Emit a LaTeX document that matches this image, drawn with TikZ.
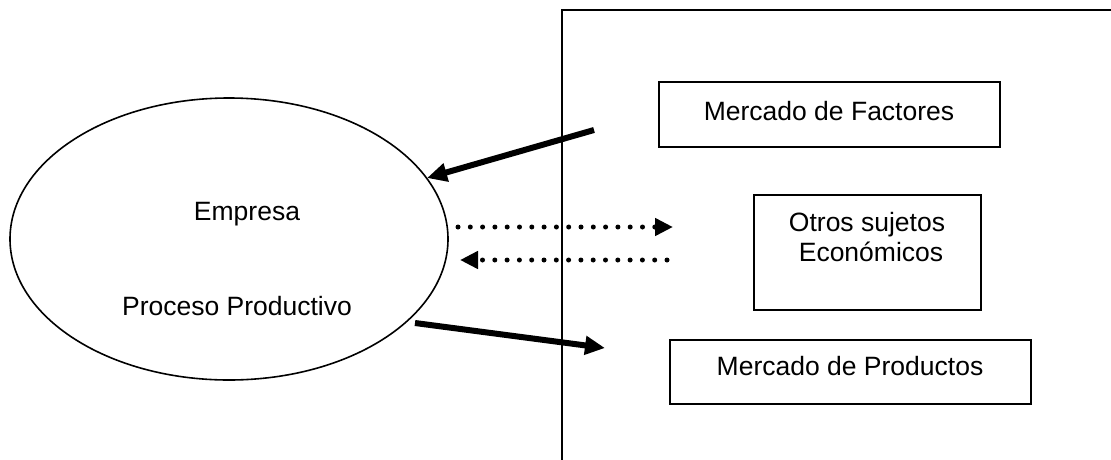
\documentclass[tikz,border=0pt]{standalone}
\usepackage{fontspec}
\setmainfont{Liberation Sans}
\usetikzlibrary{shapes.geometric,arrows.meta}
\begin{document}
\begin{tikzpicture}[x=1pt,y=-1pt,
  txt/.style={font=\fontsize{26.5}{30}\selectfont,inner sep=0pt,anchor=base},
  boxnode/.style={draw,line width=2pt,rectangle,inner sep=0pt},
  thick arrow/.style={line width=6pt,-{Triangle[length=20pt,width=18pt]}},
  dot arrow/.style={line width=5pt,line cap=round,dash pattern=on 0pt off 12.3pt,-{Triangle[length=18pt,width=17pt]}}]
\useasboundingbox (0,0) rectangle (1111,459);
% outer frame
\coordinate (fa) at (562,470);
\coordinate (fb) at (562,10);
\coordinate (fc) at (1120,10);
\draw[line width=2pt] (fa) -- (fb) -- (fc);
% ellipse
\node[draw,ellipse,line width=1.6pt,minimum width=438pt,minimum height=282pt,inner sep=0pt] (emp) at (229,239) {};
\node[txt] (t1) at (247,220) {Empresa};
\node[txt] (t2) at (237,315) {Proceso Productivo};
% boxes
\node[boxnode,minimum width=341pt,minimum height=65pt] (fac) at (829.5,114.5) {};
\node[txt] (facT) at (829,120) {Mercado de Factores};
\node[boxnode,minimum width=227pt,minimum height=115pt] (otr) at (867.5,252.5) {};
\node[txt] (otrT1) at (867,231) {Otros sujetos};
\node[txt] (otrT2) at (871,261) {Económicos};
\node[boxnode,minimum width=361pt,minimum height=64pt] (pro) at (850.5,372) {};
\node[txt] (proT) at (850,375) {Mercado de Productos};
% arrows
\coordinate (a1s) at (594,130);
\coordinate (a1e) at (427,178);
\draw[thick arrow] (a1s) -- (a1e);
\coordinate (a2s) at (415,323);
\coordinate (a2e) at (605,348);
\draw[thick arrow] (a2s) -- (a2e);
\coordinate (d1s) at (458,227);
\coordinate (d1e) at (673,227);
\draw[dot arrow] (d1s) -- (d1e);
\coordinate (d2s) at (667,260);
\coordinate (d2e) at (460,260);
\draw[dot arrow] (d2s) -- (d2e);
\end{tikzpicture}
\end{document}
